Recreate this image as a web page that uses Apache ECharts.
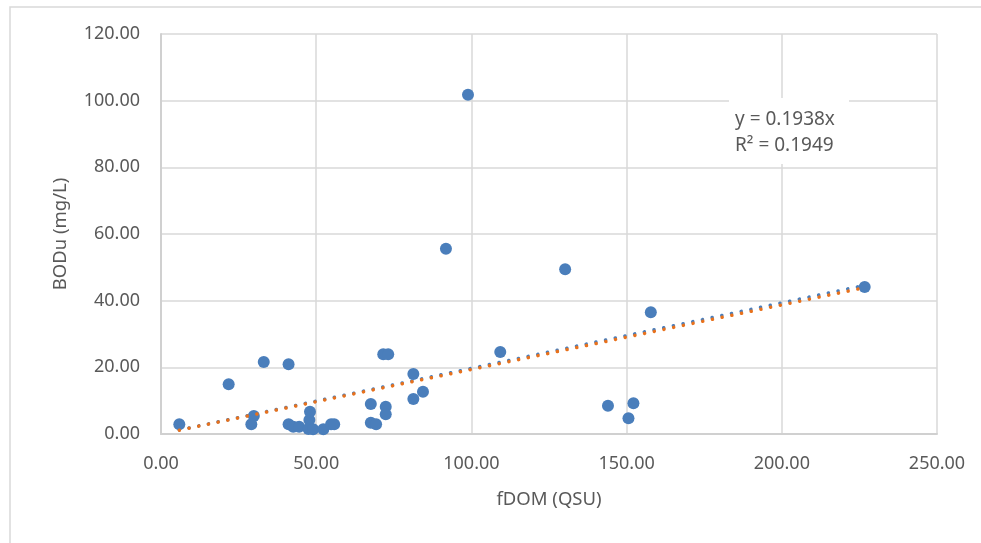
<!DOCTYPE html>
<html>
<head>
<meta charset="utf-8">
<script src="https://cdn.jsdelivr.net/npm/echarts@6/dist/echarts.min.js"></script>
<style>html,body{margin:0;padding:0;background:#fff;}#c{width:981px;height:543px;}</style>
</head>
<body>
<div id="c"></div>
<script>
// fDOM (QSU) values
const fdom = [5.9, 21.8, 33.1, 41.1, 29.9, 29.1,
  41.1, 42.6, 44.5, 47.8, 48.0, 47.5, 49.0, 52.3, 54.8, 55.8,
  67.6, 67.6, 69.3, 72.4, 72.4, 71.6, 73.2, 81.3, 81.3, 84.4,
  91.8, 98.9, 109.3, 130.2, 144.0, 150.6, 152.2, 157.8, 226.7];
// BODu (mg/L) values
const bodu = [2.9, 14.9, 21.6, 20.9, 5.4, 2.9,
  2.9, 2.2, 2.2, 4.2, 6.7, 1.5, 1.4, 1.4, 2.9, 2.9,
  9.0, 3.4, 2.9, 8.2, 5.9, 23.9, 23.9, 18.0, 10.5, 12.7,
  55.6, 101.8, 24.6, 49.4, 8.5, 4.7, 9.2, 36.5, 44.1];
// trendline endpoints (y = 0.1938x)
const trendOrangeX = [5.9, 226.7];
const trendOrangeY = [1.14, 43.9];
const trendBlueX = [5.9, 226.7];
const trendBlueY = [1.2, 44.6];
const eqText = ['y = 0.1938x', 'R² = 0.1949'];

const pts = fdom.map((x, i) => [x, bodu[i]]);
const font = 'Noto Sans, sans-serif';
const chart = echarts.init(document.getElementById('c'));
chart.setOption({
  animation: false,
  backgroundColor: '#fff',
  grid: { left: 161, right: 44, top: 34, bottom: 109 },
  xAxis: {
    type: 'value', min: 0, max: 250, interval: 50,
    name: 'fDOM (QSU)', nameLocation: 'middle', nameGap: 56,
    nameTextStyle: { color: '#595959', fontSize: 18.5, fontFamily: font },
    axisLine: { show: true, lineStyle: { color: '#d0d0d0', width: 2 } },
    axisTick: { show: false },
    axisLabel: { color: '#595959', fontSize: 18, fontFamily: font, margin: 21,
      formatter: v => v.toFixed(2) },
    splitLine: { show: true, lineStyle: { color: '#d9d9d9', width: 1.5 } }
  },
  yAxis: {
    type: 'value', min: 0, max: 120, interval: 20,
    name: 'BODu (mg/L)', nameLocation: 'middle', nameGap: 91, nameRotate: 90,
    nameTextStyle: { color: '#595959', fontSize: 18.5, fontFamily: font },
    axisLine: { show: true, lineStyle: { color: '#d0d0d0', width: 2 } },
    axisTick: { show: false },
    axisLabel: { color: '#595959', fontSize: 18, fontFamily: font, margin: 21,
      formatter: v => v.toFixed(2) },
    splitLine: { show: true, lineStyle: { color: '#d9d9d9', width: 1.5 } }
  },
  series: [
    {
      type: 'line', data: trendBlueX.map((x, i) => [x, trendBlueY[i]]),
      symbol: 'none', z: 1,
      lineStyle: { color: '#4a7ebb', width: 3.5, type: [0.1, 9.8], cap: 'round' }
    },
    {
      type: 'scatter', data: pts, symbolSize: 12, z: 2,
      itemStyle: { color: '#4a7ebb', opacity: 1 }
    },
    {
      type: 'line', data: trendOrangeX.map((x, i) => [x, trendOrangeY[i]]),
      symbol: 'none', z: 3,
      lineStyle: { color: '#e8711c', width: 3.5, type: [0.1, 9.8], cap: 'round' }
    }
  ],
  graphic: [
    { type: 'rect', shape: { x: 10, y: 7, width: 1000, height: 600 },
      style: { fill: 'none', stroke: '#d9d9d9', lineWidth: 1.5 }, z: 0, silent: true },
    { type: 'rect', shape: { x: 729, y: 98, width: 120, height: 66 },
      style: { fill: '#fff' }, z: 10 },
    { type: 'text', left: 735, top: 107, z: 11,
      style: { text: eqText.join('\n'), fill: '#595959', font: '19px ' + font, lineHeight: 26 } }
  ]
});
</script>
</body>
</html>
